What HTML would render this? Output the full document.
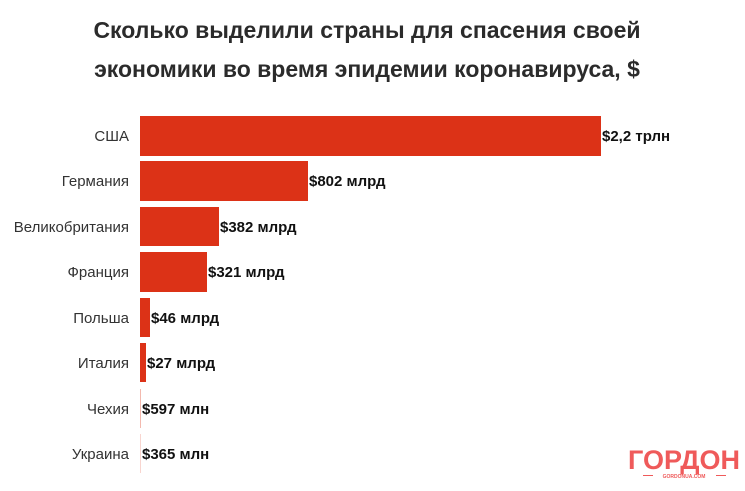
<!DOCTYPE html>
<html><head><meta charset="utf-8"><style>
html,body{margin:0;padding:0;background:#fff;}
svg{display:block;font-family:"Liberation Sans",sans-serif;}
</style></head><body>
<svg width="745" height="491" viewBox="0 0 745 491" xmlns="http://www.w3.org/2000/svg">
<rect width="745" height="491" fill="#fff"/>
<text x="367" y="38" text-anchor="middle" font-size="23" font-weight="bold" fill="#2b2b2b">Сколько выделили страны для спасения своей</text>
<text x="367" y="77" text-anchor="middle" font-size="23" font-weight="bold" fill="#2b2b2b">экономики во время эпидемии коронавируса, $</text>
<g fill="#dc3217">
<rect x="140" y="116" width="461" height="40"/>
<rect x="140" y="161" width="168" height="40"/>
<rect x="140" y="207" width="79" height="39"/>
<rect x="140" y="252" width="67" height="40"/>
<rect x="140" y="298" width="10" height="39"/>
<rect x="140" y="343" width="6" height="39"/>
<rect x="140" y="389" width="1" height="39" fill="#f3b9ae"/>
<rect x="140" y="434" width="1" height="39" fill="#f8d5cf"/>
</g>
<g font-size="15" fill="#333" text-anchor="end">
<text x="129" y="141">США</text>
<text x="129" y="186">Германия</text>
<text x="129" y="232">Великобритания</text>
<text x="129" y="277">Франция</text>
<text x="129" y="323">Польша</text>
<text x="129" y="368">Италия</text>
<text x="129" y="414">Чехия</text>
<text x="129" y="459">Украина</text>
</g>
<g font-size="15" fill="#111" font-weight="bold">
<text x="602" y="141">$2,2 трлн</text>
<text x="309" y="186">$802 млрд</text>
<text x="220" y="232">$382 млрд</text>
<text x="208" y="277">$321 млрд</text>
<text x="151" y="323">$46 млрд</text>
<text x="147" y="368">$27 млрд</text>
<text x="142" y="414">$597 млн</text>
<text x="142" y="459">$365 млн</text>
</g>
<text x="684" y="469" text-anchor="middle" font-size="27" font-weight="bold" fill="#ef5a5a">ГОРДОН</text>
<text x="684" y="478" text-anchor="middle" font-size="5" font-weight="bold" fill="#ef5a5a">GORDONUA.COM</text>
<rect x="643" y="475" width="10" height="1" fill="#ef5a5a"/>
<rect x="716" y="475" width="10" height="1" fill="#ef5a5a"/>
</svg>
</body></html>
